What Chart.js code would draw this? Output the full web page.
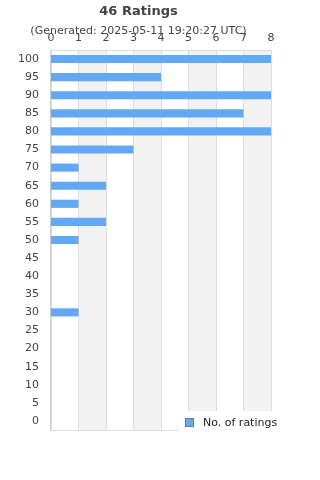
<!DOCTYPE html>
<html>
<head>
<meta charset="utf-8">
<script src="https://cdn.jsdelivr.net/npm/chart.js"></script>
<style>
  body { margin: 0; background: #fff; }
  canvas { display: block; }
</style>
</head>
<body>
<canvas id="myChart" width="320" height="480"></canvas>
<script>
var scores = ['100','95','90','85','80','75','70','65','60','55','50','45','40','35','30','25','20','15','10','5','0']
var counts = [8, 4, 8, 7, 8, 3, 1, 2, 1, 2, 1, 0, 0, 0, 1, 0, 0, 0, 0, 0, 0]
var xTicks = [0, 1, 2, 3, 4, 5, 6, 7, 8]
var titleText = '46 Ratings'
var subtitleText = '(Generated: 2025-05-11 19:20:27 UTC)'
var seriesLabel = 'No. of ratings'

Chart.defaults.font.family = "'DejaVu Sans', sans-serif"
Chart.defaults.color = '#444'

// grey bands between every other tick + frame round the plot
var bands = {
  id: 'bands',
  beforeDatasetsDraw: function(chart) {
    var ctx = chart.ctx, a = chart.chartArea, x = chart.scales.x
    ctx.save()
    ctx.fillStyle = '#f2f2f2'
    for (var i = 1; i < xTicks.length - 1; i += 2) {
      var x0 = x.getPixelForValue(xTicks[i]), x1 = x.getPixelForValue(xTicks[i + 1])
      ctx.fillRect(x0, a.top, x1 - x0, a.bottom - a.top)
    }
    ctx.strokeStyle = '#dddddd'
    ctx.lineWidth = 1
    for (var j = 0; j < xTicks.length; j++) {
      var px = Math.round(x.getPixelForValue(xTicks[j])) + 0.5
      ctx.beginPath(); ctx.moveTo(px, a.top); ctx.lineTo(px, a.bottom); ctx.stroke()
    }
    ctx.beginPath()
    ctx.moveTo(a.left, Math.round(a.top) + 0.5); ctx.lineTo(a.right, Math.round(a.top) + 0.5)
    ctx.moveTo(a.left, Math.round(a.bottom) + 0.5); ctx.lineTo(a.right, Math.round(a.bottom) + 0.5)
    ctx.stroke()
    ctx.restore()
  },
  afterDraw: function(chart) {
    // legend sits on a white box over the bottom right of the plot
    var ctx = chart.ctx
    var ds = chart.data.datasets[0]
    ctx.save()
    ctx.fillStyle = '#fff'
    ctx.fillRect(178, 411, 142, 40)
    ctx.fillStyle = ds.backgroundColor
    ctx.fillRect(185.5, 418.5, 8, 8)
    ctx.strokeStyle = '#777'
    ctx.lineWidth = 1
    ctx.strokeRect(185.5, 418.5, 8, 8)
    ctx.fillStyle = '#222'
    ctx.font = "11px 'DejaVu Sans', sans-serif"
    ctx.textBaseline = 'middle'
    ctx.fillText(ds.label, 203, 423)
    ctx.restore()
  }
}

const ctx = document.getElementById('myChart')

new Chart(ctx, {
  type: 'bar',
  data: {
    labels: scores,
    datasets: [{
      label: seriesLabel,
      data: counts,
      backgroundColor: '#63a8f5',
      borderWidth: 0,
      categoryPercentage: 1,
      barPercentage: 0.45
    }]
  },
  options: {
    indexAxis: 'y',
    responsive: false,
    animation: false,
    layout: { padding: { left: 6, right: 49, bottom: 50, top: 0 } },
    plugins: {
      legend: { display: false },
      tooltip: { enabled: false },
      title: {
        display: true,
        text: titleText,
        color: '#444',
        font: { size: 13, weight: 'bold' },
        padding: { top: 4, bottom: 5 }
      },
      subtitle: {
        display: true,
        text: subtitleText,
        color: '#444',
        font: { size: 11 },
        padding: { top: 0, bottom: -11 }
      }
    },
    scales: {
      x: {
        position: 'top',
        min: 0,
        max: 8,
        afterBuildTicks: function(axis) {
          axis.ticks = xTicks.map(function(v) { return { value: v } })
        },
        ticks: { color: '#444', font: { size: 11 }, padding: 5, maxRotation: 0 },
        grid: { display: false, drawTicks: false },
        border: { display: false }
      },
      y: {
        ticks: { color: '#444', font: { size: 11 }, padding: 12, autoSkip: false },
        grid: { display: false, drawTicks: false },
        border: { display: true, color: '#cccccc' }
      }
    }
  },
  plugins: [bands]
})
</script>
</body>
</html>
